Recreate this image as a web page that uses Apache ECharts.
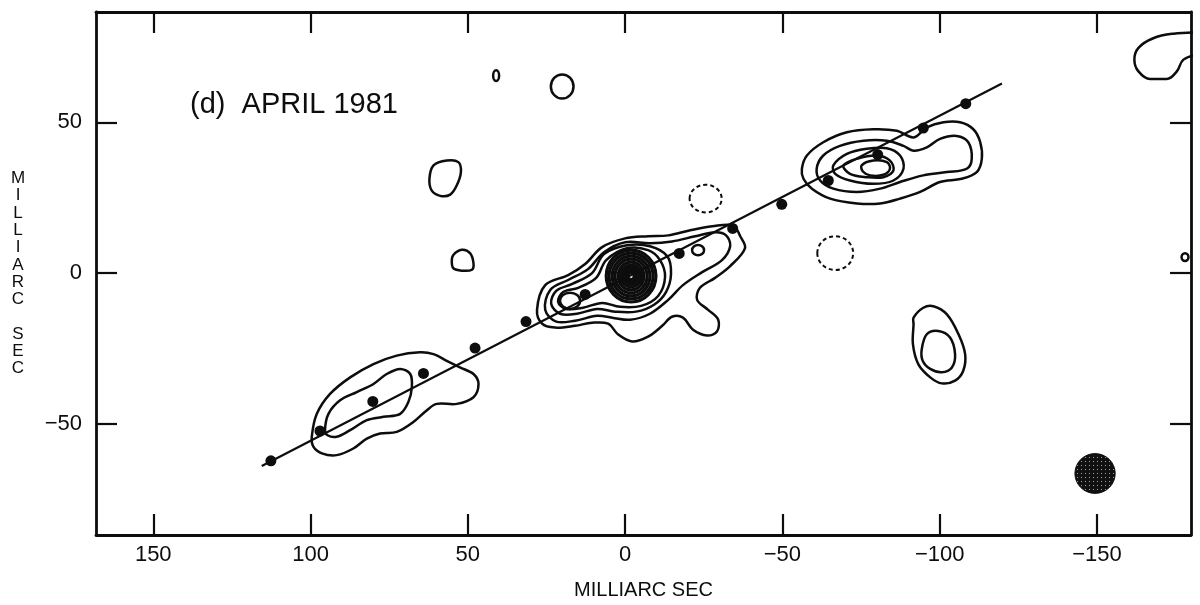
<!DOCTYPE html>
<html>
<head>
<meta charset="utf-8">
<script src="https://cdn.jsdelivr.net/npm/echarts@6/dist/echarts.min.js"></script>
<style>
  html, body { margin: 0; padding: 0; background: #ffffff; }
  #chart { width: 1200px; height: 605px; }
</style>
</head>
<body>
<div id="chart"></div>
<script>
// VLBI map of the source, April 1981: relative RA / Dec offsets in milliarcseconds.

// Axis ticks (x runs from east on the left to west on the right)
const xTicks = [150, 100, 50, 0, -50, -100, -150];
const yTicks = [-50, 0, 50];

// Precession-model jet axis and predicted knot positions
const jetAxis = [[115.5, -64.0], [-119.8, 62.9]];
const jetKnots = [
  [112.6, -62.3], [97.0, -52.4], [80.2, -42.6], [64.1, -33.3], [47.7, -24.9],
  [31.5, -16.1], [12.7, -7.1], [-17.2, 6.5], [-34.2, 14.8], [-49.8, 22.8],
  [-64.6, 30.7], [-80.3, 39.3], [-94.8, 48.1], [-108.3, 56.2]
];

// Central component: the outer contours enclosing core and inner knots
const coreLevel1 = [
  [28.0, -12.2], [25.4, -4.0], [18.1, -0.7], [12.7, 3.0], [7.3, 8.6], [0, 11.5],
  [-7.3, 12.2], [-13.7, 12.5], [-20.7, 14.2], [-27.7, 15.5], [-34.3, 15.8],
  [-36.6, 12.2], [-38.1, 8.2], [-33.4, 2.3], [-28.6, -1.6], [-23.8, -4.9],
  [-22.9, -8.9], [-26.4, -12.2], [-29.6, -15.5], [-29.2, -19.4], [-26.1, -20.7],
  [-21.6, -18.8], [-18.4, -14.8], [-14.9, -14.5], [-11.8, -17.5], [-7.3, -21.1],
  [-2.2, -22.7], [2.2, -20.4], [5.4, -16.8], [10.5, -16.5], [15.9, -17.5],
  [22.3, -18.1], [26.4, -16.8]
];
const coreLevel2 = [
  [25.4, -12.2], [23.8, -5.6], [18.1, -2.3], [11.8, 1.3], [6.7, 6.9], [0, 10.2],
  [-7.9, 9.9], [-14.9, 10.5], [-22.3, 12.2], [-28.6, 13.5], [-32.1, 12.5],
  [-33.4, 8.9], [-30.8, 4.3], [-24.5, 0.3], [-18.4, -4.0], [-13.7, -8.9],
  [-7.9, -13.5], [-1.6, -15.5], [4.1, -14.8], [8.9, -14.2], [15.9, -15.8],
  [21.9, -16.1]
];
const coreLevel3 = [
  [23.5, -10.2], [21.9, -5.9], [16.8, -3.6], [10.5, 0], [6.7, 6.3], [-0.6, 9.2],
  [-7.9, 8.9], [-13.4, 5.6], [-14.6, -0.3], [-13.0, -6.3], [-9.2, -10.5],
  [-3.5, -12.8], [3.2, -12.8], [8.9, -11.9], [15.3, -13.5], [20.7, -13.5]
];
const coreLevel4 = [
  [21.3, -9.5], [19.7, -6.3], [14.9, -4.9], [9.2, -1.6], [6.0, 4.3], [-0.6, 8.2],
  [-7.3, 7.6], [-11.1, 4.3], [-12.7, -1.3], [-10.5, -7.6], [-5.1, -10.9],
  [1.6, -11.2], [7.3, -9.9], [13.4, -11.5], [18.8, -11.9]
];
// Core rings: [centre x, centre y, half-width, half-height]
const coreRings = [
  [-1.9, -1.0, 7.9, 8.6], [-1.9, -1.0, 7.0, 7.6], [-1.9, -1.0, 6.0, 6.6],
  [-1.9, -1.0, 5.1, 5.6], [-1.9, -1.0, 4.1, 4.6], [-1.9, -1.0, 3.3, 3.6],
  [-1.9, -1.0, 2.5, 2.8], [-1.9, -1.0, 1.7, 2.0], [-1.9, -1.0, 1.0, 1.2]
];
// Small closed contours drawn as ellipses: [x, y, half-width, half-height]
const smallPeaks = [
  [17.5, -9.2, 3.2, 2.7],   // eastern inner knot
  [-23.2, 7.6, 1.9, 1.7],   // western inner knot
  [20.0, 61.9, 3.6, 4.0],   // northern patch
  [41.0, 65.5, 0.95, 1.8],  // tiny northern patch
  [-178.0, 5.3, 1.1, 1.3]   // patch at the western edge
];
// Negative (dashed) contours
const negativePeaks = [
  [-25.6, 24.7, 5.1, 4.6],
  [-66.8, 6.6, 5.7, 5.6]
];

// Western lobe
const westLobe1 = [
  [-56.2, 34.6], [-57.8, 39.0], [-63.0, 43.4], [-70.5, 46.7], [-78.9, 47.7],
  [-86.4, 47.2], [-91.7, 45.0], [-95.9, 48.3], [-101.2, 50.0], [-106.5, 50.0],
  [-110.7, 47.7], [-112.9, 43.4], [-113.4, 37.9], [-111.8, 33.5], [-107.0, 31.3],
  [-100.1, 30.2], [-93.8, 26.9], [-87.4, 24.7], [-81.1, 23.1], [-73.7, 23.1],
  [-65.2, 24.7], [-59.4, 28.0], [-56.7, 31.3]
];
const westLobe2 = [
  [-60.9, 34.6], [-63.0, 39.0], [-68.3, 42.2], [-75.8, 43.9], [-83.2, 43.9],
  [-88.5, 42.2], [-91.7, 40.6], [-95.9, 41.7], [-100.1, 44.5], [-105.4, 45.5],
  [-109.1, 43.4], [-110.2, 37.9], [-108.6, 34.6], [-102.3, 33.5], [-94.8, 32.4],
  [-87.4, 30.2], [-81.1, 28.0], [-73.7, 26.9], [-66.2, 28.0], [-62.0, 30.7]
];
const westLobe3 = [
  [-66.2, 35.7], [-70.5, 39.5], [-76.8, 41.2], [-83.2, 41.4], [-87.4, 39.0],
  [-88.5, 34.6], [-85.3, 30.7], [-78.9, 29.6], [-71.5, 30.7], [-66.8, 32.9]
];
const westLobe4 = [
  [-69.4, 35.7], [-73.7, 37.9], [-80.0, 39.0], [-84.2, 37.3], [-85.3, 34.0],
  [-82.1, 31.8], [-76.8, 31.8], [-71.5, 32.9]
];
const westLobe5 = [
  [-75.2, 35.7], [-78.9, 37.3], [-83.2, 36.8], [-84.2, 34.6], [-82.1, 32.6],
  [-77.9, 32.4], [-75.6, 33.7]
];

// Eastern lobe
const eastLobe1 = [
  [99.6, -54.3], [98.0, -46.7], [93.8, -40.1], [87.4, -34.6], [80.0, -30.2],
  [72.6, -27.4], [65.2, -26.3], [60.9, -26.9], [56.7, -29.1], [52.5, -31.3],
  [48.2, -33.5], [46.6, -36.8], [48.2, -41.2], [53.5, -43.4], [59.9, -43.4],
  [63.0, -45.5], [67.3, -49.4], [72.6, -52.7], [77.9, -53.2], [82.1, -54.9],
  [86.4, -58.2], [91.7, -60.4], [96.4, -59.8], [99.1, -57.6]
];
const eastLobe2 = [
  [95.4, -52.1], [94.3, -46.7], [90.6, -42.2], [85.3, -39.5], [80.0, -36.8],
  [75.8, -33.5], [71.5, -31.8], [68.3, -33.5], [67.8, -37.9], [68.9, -42.8],
  [71.5, -46.7], [76.8, -47.7], [82.1, -48.8], [87.4, -52.1], [91.7, -54.3],
  [94.6, -53.8]
];

// Isolated patches
const northEastPatch = [
  [60.9, 35.7], [56.7, 37.3], [53.0, 36.8], [52.2, 33.5], [53.5, 29.1],
  [55.6, 26.0], [58.8, 25.6], [61.5, 27.4], [62.2, 31.3]
];
const eastPatch = [
  [54.6, 6.0], [51.9, 7.7], [49.3, 6.6], [48.2, 3.3], [48.7, 1.1],
  [51.9, 0.8], [54.6, 1.6], [55.1, 3.9]
];
const southWestOuter = [
  [-91.7, -14.8], [-94.8, -11.5], [-98.0, -11.0], [-102.3, -13.7], [-106.0, -20.3],
  [-108.1, -26.9], [-107.5, -32.4], [-104.9, -35.7], [-100.7, -36.6], [-97.0, -34.6],
  [-93.2, -30.2], [-91.5, -23.6], [-91.7, -17.0]
];
const southWestInner = [
  [-94.3, -25.3], [-95.9, -20.3], [-99.6, -19.2], [-103.3, -21.4], [-104.9, -26.9],
  [-103.9, -31.3], [-100.7, -32.9], [-97.0, -31.8], [-94.6, -29.1]
];
// Contour running off the north-west corner of the field
const cornerArc = [
  [-182.0, 79.8], [-174.3, 79.4], [-167.9, 77.9], [-163.2, 74.7], [-161.9, 70.8],
  [-163.2, 66.9], [-166.9, 64.4], [-172.2, 64.4], [-175.4, 66.9], [-177.5, 70.8],
  [-182.0, 72.5]
];

// Restoring beam
const beam = [[-149.4, -66.5, 6.4, 6.6]];

const INK = '#0d0d0d';
const LINE_W = 2.5;
const FONT = "'Liberation Sans', 'Noto Sans', sans-serif";

// Screen-tone fill for the beam
const tone = document.createElement('canvas');
tone.width = 4; tone.height = 4;
(function () {
  const g = tone.getContext('2d');
  g.fillStyle = '#111111'; g.fillRect(0, 0, 4, 4);
  g.fillStyle = '#a0a0a0'; g.fillRect(1, 1, 1, 1);
})();

function loopSeries(points, dashed) {
  return {
    type: 'custom',
    silent: true,
    z: 3,
    data: points,
    renderItem: function (params, api) {
      if (params.dataIndexInside !== 0) return null;
      const pts = [];
      for (let i = 0; i < params.dataInsideLength; i++) {
        pts.push(api.coord([api.value(0, i), api.value(1, i)]));
      }
      return {
        type: 'polygon',
        shape: { points: pts, smooth: 0.35 },
        style: { fill: 'none', stroke: INK, lineWidth: LINE_W, lineDash: dashed ? [4, 3] : null }
      };
    }
  };
}

function ellipseSeries(items, opts) {
  opts = opts || {};
  return {
    type: 'custom',
    silent: true,
    z: 3,
    data: items,
    renderItem: function (params, api) {
      const c = api.coord([api.value(0), api.value(1)]);
      const s = api.size([api.value(2), api.value(3)]);
      return {
        type: 'ellipse',
        shape: { cx: c[0], cy: c[1], rx: Math.abs(s[0]), ry: Math.abs(s[1]) },
        style: {
          fill: opts.fill || 'none',
          stroke: INK,
          lineWidth: opts.lineWidth || LINE_W,
          lineDash: opts.dashed ? [4, 3] : null
        }
      };
    }
  };
}

const fmt = function (v) { return v < 0 ? '\u2212' + (-v) : String(v); };
const frameLine = { onZero: false, lineStyle: { color: INK, width: 2.8 } };
const tickStyle = { color: INK, width: 2.2 };

const xRange = { min: -179.9, max: 168.2 };
const yRange = { min: -86.9, max: 86.6 };

const option = {
  backgroundColor: '#ffffff',
  animation: false,
  title: {
    text: '(d)  APRIL 1981',
    left: 190,
    top: 90,
    padding: 0,
    textStyle: { fontFamily: FONT, fontSize: 29, fontWeight: 'normal', color: INK }
  },
  grid: { left: 96, right: 9, top: 12, bottom: 66 },
  xAxis: [
    {
      type: 'value', inverse: true, min: xRange.min, max: xRange.max, position: 'bottom',
      axisLine: frameLine,
      axisTick: { show: true, inside: true, length: 21, lineStyle: tickStyle, customValues: xTicks },
      axisLabel: { customValues: xTicks, formatter: fmt, margin: 9, fontSize: 22, fontFamily: FONT, color: INK },
      splitLine: { show: false },
      name: 'MILLIARC SEC', nameLocation: 'middle', nameGap: 45,
      nameTextStyle: { fontFamily: FONT, fontSize: 20, color: INK }
    },
    {
      type: 'value', inverse: true, min: xRange.min, max: xRange.max, position: 'top',
      axisLine: frameLine,
      axisTick: { show: true, inside: true, length: 21, lineStyle: tickStyle, customValues: xTicks },
      axisLabel: { show: false },
      splitLine: { show: false }
    }
  ],
  yAxis: [
    {
      type: 'value', min: yRange.min, max: yRange.max, position: 'left',
      axisLine: frameLine,
      axisTick: { show: true, inside: true, length: 21, lineStyle: tickStyle, customValues: yTicks },
      axisLabel: { customValues: yTicks, formatter: fmt, margin: 14, fontSize: 22, fontFamily: FONT, color: INK },
      splitLine: { show: false },
      name: 'MILLIARC SEC'.split('').join('\n'), nameLocation: 'middle', nameGap: 78, nameRotate: 0,
      nameTextStyle: { fontFamily: FONT, fontSize: 17, lineHeight: 17.3, color: INK, align: 'center', padding: [0, 0, 26, 0] }
    },
    {
      type: 'value', min: yRange.min, max: yRange.max, position: 'right',
      axisLine: frameLine,
      axisTick: { show: true, inside: true, length: 21, lineStyle: tickStyle, customValues: yTicks },
      axisLabel: { show: false },
      splitLine: { show: false }
    }
  ],
  series: [
    loopSeries(coreLevel1), loopSeries(coreLevel2), loopSeries(coreLevel3), loopSeries(coreLevel4),
    ellipseSeries(coreRings, { lineWidth: 3.2 }),
    ellipseSeries(smallPeaks),
    ellipseSeries(negativePeaks, { dashed: true, lineWidth: 2 }),
    loopSeries(westLobe1), loopSeries(westLobe2), loopSeries(westLobe3), loopSeries(westLobe4), loopSeries(westLobe5),
    loopSeries(eastLobe1), loopSeries(eastLobe2),
    loopSeries(northEastPatch), loopSeries(eastPatch),
    loopSeries(southWestOuter), loopSeries(southWestInner),
    {
      type: 'line', data: cornerArc, smooth: 0.4, symbol: 'none', clip: true, silent: true,
      lineStyle: { color: INK, width: LINE_W }, z: 3
    },
    ellipseSeries(beam, { fill: { image: tone, repeat: 'repeat' }, lineWidth: 1 }),
    {
      type: 'line', data: jetAxis, symbol: 'none', silent: true,
      lineStyle: { color: INK, width: 2.2 }, z: 4
    },
    {
      type: 'scatter', data: jetKnots, symbol: 'circle', symbolSize: 11, silent: true,
      itemStyle: { color: INK, opacity: 1 }, z: 5
    }
  ]
};

const chart = echarts.init(document.getElementById('chart'));
chart.setOption(option);
</script>
</body>
</html>
